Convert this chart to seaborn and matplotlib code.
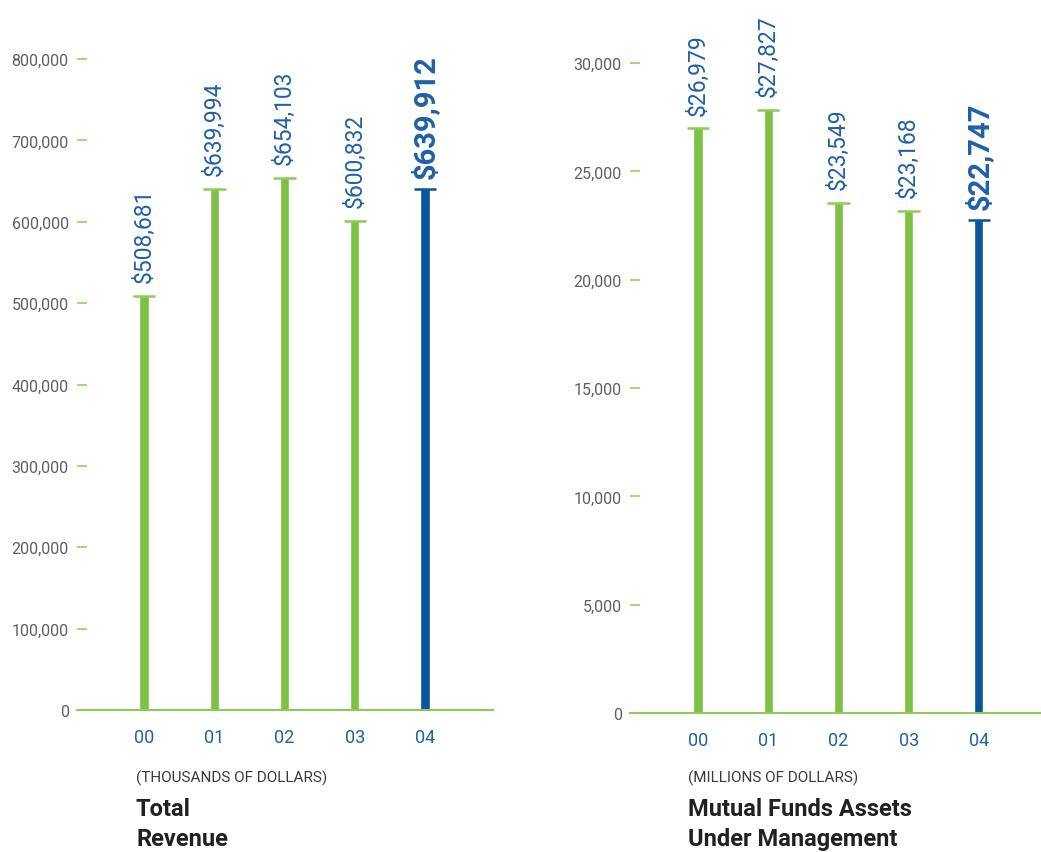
import matplotlib
matplotlib.use("Agg")
import matplotlib.pyplot as plt
import seaborn as sns

years = ["00", "01", "02", "03", "04"]
revenue = [508681, 639994, 654103, 600832, 639912]
assets = [26979, 27827, 23549, 23168, 22747]

rev_ticks = [0, 100000, 200000, 300000, 400000, 500000, 600000, 700000, 800000]
ast_ticks = [0, 5000, 10000, 15000, 20000, 25000, 30000]

GREEN = "#7cc144"
CAP_GREEN = "#8ccb55"
BLUE = "#0a549c"
TEXT_BLUE = "#1f60a8"
GRAY = "#606060"
DARK = "#231f20"

sns.set_style("white")
plt.rcParams["font.family"] = ["Roboto", "DejaVu Sans"]

W, H = 1041, 853
fig = plt.figure(figsize=(W / 100, H / 100), dpi=100)


def px_box(x0, x1, y_top, y_bot):
    return [x0 / W, 1 - y_bot / H, (x1 - x0) / W, (y_bot - y_top) / H]


def draw(ax, values, ticks, xlim):
    colors = [GREEN] * (len(values) - 1) + [BLUE]
    sns.barplot(x=years, y=values, hue=years, palette=colors, width=0.13,
                legend=False, ax=ax, saturation=1)
    caps = [CAP_GREEN] * (len(values) - 1) + [BLUE]
    for i, v in enumerate(values):
        ax.hlines(v, i - 0.16, i + 0.16, color=caps[i], lw=1.8, zorder=3)
        last = i == len(values) - 1
        ax.annotate(f"${v:,}", (i, v), xytext=(0, 8 if last else 10),
                    textcoords="offset points",
                    rotation=90, ha="center", va="bottom", color=TEXT_BLUE,
                    fontsize=21 if last else 16.5,
                    fontweight="bold" if last else "normal", annotation_clip=False)
    ax.set_xlim(*xlim)
    ax.set_ylim(0, ticks[-1])
    ax.set_yticks(ticks)
    ax.set_yticklabels([f"{t:,}" for t in ticks])
    for s in ["top", "right", "left"]:
        ax.spines[s].set_visible(False)
    ax.spines["bottom"].set_color(CAP_GREEN)
    ax.spines["bottom"].set_linewidth(1.5)
    ax.tick_params(axis="y", direction="in", length=7.5, width=1.1, color=CAP_GREEN,
                   labelcolor=GRAY, labelsize=11.5, pad=6, left=True)
    ax.tick_params(axis="x", length=0, labelcolor=TEXT_BLUE, labelsize=13, pad=13)
    ax.set_xlabel("")
    ax.set_ylabel("")
    ax.set_facecolor("none")


ax1 = fig.add_axes(px_box(77, 493, 60, 711))
draw(ax1, revenue, rev_ticks, (-0.954, 4.968))

ax2 = fig.add_axes(px_box(630, 1041, 64, 714))
draw(ax2, assets, ast_ticks, (-0.968, 4.884))

fig.text(136 / W, 1 - 778 / H, "(THOUSANDS OF DOLLARS)", fontsize=11, color="#3a3a3a",
         va="center", ha="left")
fig.text(136 / W, 1 - 810 / H, "Total", fontsize=17, fontweight="bold", color=DARK,
         va="center", ha="left")
fig.text(136 / W, 1 - 840 / H, "Revenue", fontsize=17, fontweight="bold", color=DARK,
         va="center", ha="left")

fig.text(688 / W, 1 - 778 / H, "(MILLIONS OF DOLLARS)", fontsize=11, color="#3a3a3a",
         va="center", ha="left")
fig.text(688 / W, 1 - 810 / H, "Mutual Funds Assets", fontsize=17, fontweight="bold",
         color=DARK, va="center", ha="left")
fig.text(688 / W, 1 - 840 / H, "Under Management", fontsize=17, fontweight="bold",
         color=DARK, va="center", ha="left")

fig.savefig("out.png", dpi=100, facecolor="white")
